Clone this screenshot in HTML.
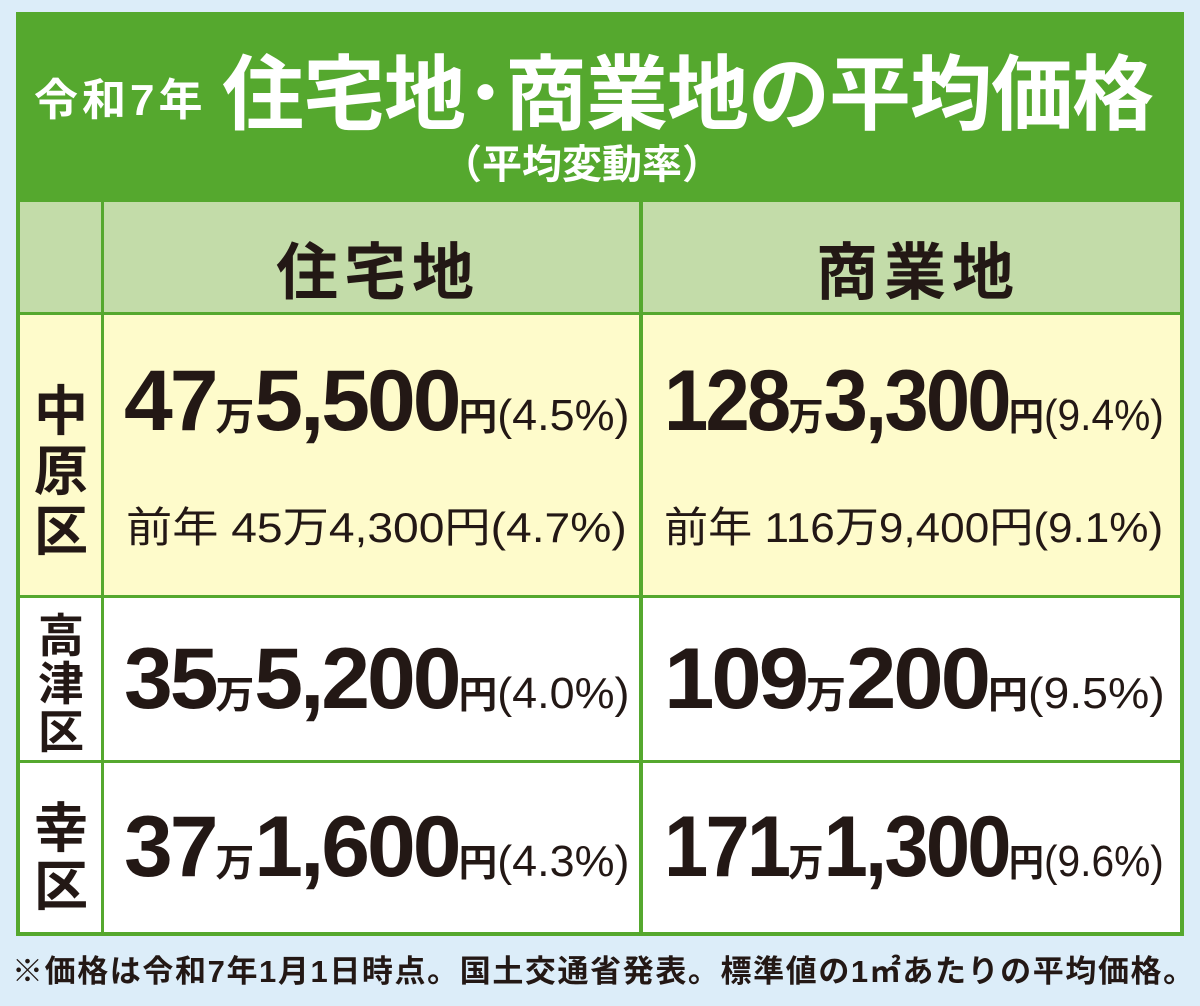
<!DOCTYPE html>
<html><head><meta charset="utf-8"><style>
body{margin:0;width:1200px;height:1006px;background:#dcedf9;position:relative;overflow:hidden;font-family:"Liberation Sans","Noto Sans CJK JP",sans-serif;color:#231815}
.a{position:absolute}
.frame{left:16px;top:12px;width:1168px;height:924px;background:#55a82e}
.line{position:absolute;white-space:nowrap;transform-origin:left center;font-weight:bold}
.b{font-size:86px;letter-spacing:-3px}
.s{font-size:38px}
.p{font-size:44px;font-weight:normal}
.v{position:absolute;font-weight:bold;text-align:center;line-height:1}
</style></head><body>
<div class="a frame"></div>
<div class="a" style="left:20px;top:202px;width:81px;height:110px;background:#c3dca9"></div>
<div class="a" style="left:104px;top:202px;width:535px;height:110px;background:#c3dca9"></div>
<div class="a" style="left:643px;top:202px;width:537px;height:110px;background:#c3dca9"></div>
<div class="a" style="left:20px;top:315px;width:81px;height:280px;background:#fefbcb"></div>
<div class="a" style="left:104px;top:315px;width:535px;height:280px;background:#fefbcb"></div>
<div class="a" style="left:643px;top:315px;width:537px;height:280px;background:#fefbcb"></div>
<div class="a" style="left:20px;top:598px;width:81px;height:162px;background:#fff"></div>
<div class="a" style="left:104px;top:598px;width:535px;height:162px;background:#fff"></div>
<div class="a" style="left:643px;top:598px;width:537px;height:162px;background:#fff"></div>
<div class="a" style="left:20px;top:763px;width:81px;height:169px;background:#fff"></div>
<div class="a" style="left:104px;top:763px;width:535px;height:169px;background:#fff"></div>
<div class="a" style="left:643px;top:763px;width:537px;height:169px;background:#fff"></div>

<div class="line" style="left:34px;top:64px;color:#fff;font-size:44px;letter-spacing:4px">令和7年</div>
<div class="line" style="left:222px;top:28px;color:#fff;font-size:82px;letter-spacing:-1px">住宅地･商業地の平均価格</div>
<div class="line" style="left:442px;top:132px;color:#fff;font-size:40px">（平均変動率）</div>

<div class="line" style="left:276px;top:222px;font-size:62px;letter-spacing:6px">住宅地</div>
<div class="line" style="left:816px;top:222px;font-size:62px;letter-spacing:6px">商業地</div>

<div class="v" style="left:30px;top:382px;width:62px;font-size:54px;line-height:60px">中<br>原<br>区</div>
<div class="v" style="left:34px;top:612px;width:54px;font-size:46px;line-height:48px">高<br>津<br>区</div>
<div class="v" style="left:30px;top:800px;width:62px;font-size:54px;line-height:58px">幸<br>区</div>

<div class="line" style="left:124px;top:352px;transform:scaleX(1.02)"><span class="b">47</span><span class="s">万</span><span class="b">5,500</span><span class="s">円</span><span class="p">(4.5%)</span></div>
<div class="line p" style="left:126px;top:494px;font-size:42px;transform:scaleX(1.1)">前年 45万4,300円(4.7%)</div>
<div class="line" style="left:664px;top:352px;transform:scaleX(0.925)"><span class="b">128</span><span class="s">万</span><span class="b">3,300</span><span class="s">円</span><span class="p">(9.4%)</span></div>
<div class="line p" style="left:664px;top:494px;font-size:42px;transform:scaleX(1.05)">前年 116万9,400円(9.1%)</div>

<div class="line" style="left:124px;top:630px;transform:scaleX(1.02)"><span class="b">35</span><span class="s">万</span><span class="b">5,200</span><span class="s">円</span><span class="p">(4.0%)</span></div>
<div class="line" style="left:664px;top:630px;transform:scaleX(1.055)"><span class="b">109</span><span class="s">万</span><span class="b">200</span><span class="s">円</span><span class="p">(9.5%)</span></div>
<div class="line" style="left:124px;top:798px;transform:scaleX(1.02)"><span class="b">37</span><span class="s">万</span><span class="b">1,600</span><span class="s">円</span><span class="p">(4.3%)</span></div>
<div class="line" style="left:664px;top:798px;transform:scaleX(0.925)"><span class="b">171</span><span class="s">万</span><span class="b">1,300</span><span class="s">円</span><span class="p">(9.6%)</span></div>

<div class="line" style="left:12px;top:946px;font-size:31px;letter-spacing:1.6px">※価格は令和7年1月1日時点。国土交通省発表。標準値の1㎡あたりの平均価格。</div>
</body></html>
